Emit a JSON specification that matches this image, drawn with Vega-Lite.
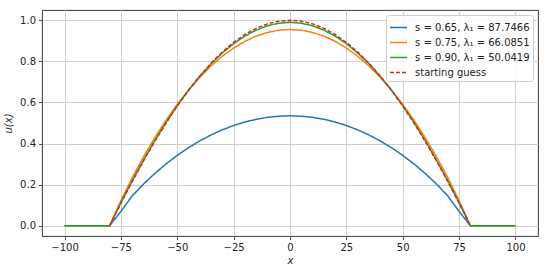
{
  "$schema": "https://vega.github.io/schema/vega-lite/v6.json",
  "width": 496,
  "height": 226,
  "autosize": {"type": "none"},
  "padding": {"left": 42, "top": 10, "right": 18, "bottom": 38},
  "background": "white",
  "config": {
    "font": "DejaVu Sans",
    "view": {"stroke": "#222222", "strokeWidth": 0.9},
    "axis": {
      "labelFont": "DejaVu Sans",
      "titleFont": "DejaVu Sans",
      "labelFontSize": 10,
      "titleFontSize": 10,
      "labelColor": "#222222",
      "titleColor": "#222222",
      "titleFontWeight": "normal",
      "titleFontStyle": "italic",
      "domain": false,
      "tickColor": "#222222",
      "tickSize": 3.5,
      "tickWidth": 0.8,
      "labelPadding": 3,
      "gridColor": "#cfcfcf",
      "gridWidth": 1
    },
    "legend": {
      "orient": "top-right",
      "offset": 5,
      "fillColor": "rgba(255,255,255,0.85)",
      "strokeColor": "#cccccc",
      "cornerRadius": 3,
      "padding": 3,
      "symbolType": "stroke",
      "symbolSize": 289,
      "symbolStrokeWidth": 1.5,
      "labelFontSize": 10,
      "labelFont": "DejaVu Sans",
      "labelColor": "#222222",
      "rowPadding": -3,
      "labelOffset": 7
    }
  },
  "data": {
    "values": [
      {"x": -100, "u": 0, "series": "s = 0.65, λ₁ = 87.7466"},
      {"x": -90, "u": 0, "series": "s = 0.65, λ₁ = 87.7466"},
      {"x": -80, "u": 0, "series": "s = 0.65, λ₁ = 87.7466"},
      {"x": -75, "u": 0.07, "series": "s = 0.65, λ₁ = 87.7466"},
      {"x": -70, "u": 0.145, "series": "s = 0.65, λ₁ = 87.7466"},
      {"x": -65, "u": 0.2025, "series": "s = 0.65, λ₁ = 87.7466"},
      {"x": -60, "u": 0.2542, "series": "s = 0.65, λ₁ = 87.7466"},
      {"x": -55, "u": 0.3008, "series": "s = 0.65, λ₁ = 87.7466"},
      {"x": -50, "u": 0.3424, "series": "s = 0.65, λ₁ = 87.7466"},
      {"x": -45, "u": 0.3799, "series": "s = 0.65, λ₁ = 87.7466"},
      {"x": -40, "u": 0.413, "series": "s = 0.65, λ₁ = 87.7466"},
      {"x": -35, "u": 0.4419, "series": "s = 0.65, λ₁ = 87.7466"},
      {"x": -30, "u": 0.4668, "series": "s = 0.65, λ₁ = 87.7466"},
      {"x": -25, "u": 0.4878, "series": "s = 0.65, λ₁ = 87.7466"},
      {"x": -20, "u": 0.5048, "series": "s = 0.65, λ₁ = 87.7466"},
      {"x": -15, "u": 0.518, "series": "s = 0.65, λ₁ = 87.7466"},
      {"x": -10, "u": 0.5275, "series": "s = 0.65, λ₁ = 87.7466"},
      {"x": -5, "u": 0.5331, "series": "s = 0.65, λ₁ = 87.7466"},
      {"x": 0, "u": 0.535, "series": "s = 0.65, λ₁ = 87.7466"},
      {"x": 5, "u": 0.5331, "series": "s = 0.65, λ₁ = 87.7466"},
      {"x": 10, "u": 0.5275, "series": "s = 0.65, λ₁ = 87.7466"},
      {"x": 15, "u": 0.518, "series": "s = 0.65, λ₁ = 87.7466"},
      {"x": 20, "u": 0.5048, "series": "s = 0.65, λ₁ = 87.7466"},
      {"x": 25, "u": 0.4878, "series": "s = 0.65, λ₁ = 87.7466"},
      {"x": 30, "u": 0.4668, "series": "s = 0.65, λ₁ = 87.7466"},
      {"x": 35, "u": 0.4419, "series": "s = 0.65, λ₁ = 87.7466"},
      {"x": 40, "u": 0.413, "series": "s = 0.65, λ₁ = 87.7466"},
      {"x": 45, "u": 0.3799, "series": "s = 0.65, λ₁ = 87.7466"},
      {"x": 50, "u": 0.3424, "series": "s = 0.65, λ₁ = 87.7466"},
      {"x": 55, "u": 0.3008, "series": "s = 0.65, λ₁ = 87.7466"},
      {"x": 60, "u": 0.2542, "series": "s = 0.65, λ₁ = 87.7466"},
      {"x": 65, "u": 0.2025, "series": "s = 0.65, λ₁ = 87.7466"},
      {"x": 70, "u": 0.145, "series": "s = 0.65, λ₁ = 87.7466"},
      {"x": 75, "u": 0.07, "series": "s = 0.65, λ₁ = 87.7466"},
      {"x": 80, "u": 0, "series": "s = 0.65, λ₁ = 87.7466"},
      {"x": 90, "u": 0, "series": "s = 0.65, λ₁ = 87.7466"},
      {"x": 100, "u": 0, "series": "s = 0.65, λ₁ = 87.7466"},

      {"x": -100, "u": 0, "series": "s = 0.75, λ₁ = 66.0851"},
      {"x": -90, "u": 0, "series": "s = 0.75, λ₁ = 66.0851"},
      {"x": -80, "u": 0, "series": "s = 0.75, λ₁ = 66.0851"},
      {"x": -75, "u": 0.1226, "series": "s = 0.75, λ₁ = 66.0851"},
      {"x": -70, "u": 0.2337, "series": "s = 0.75, λ₁ = 66.0851"},
      {"x": -65, "u": 0.3351, "series": "s = 0.75, λ₁ = 66.0851"},
      {"x": -60, "u": 0.4281, "series": "s = 0.75, λ₁ = 66.0851"},
      {"x": -55, "u": 0.5134, "series": "s = 0.75, λ₁ = 66.0851"},
      {"x": -50, "u": 0.5905, "series": "s = 0.75, λ₁ = 66.0851"},
      {"x": -45, "u": 0.66, "series": "s = 0.75, λ₁ = 66.0851"},
      {"x": -40, "u": 0.7226, "series": "s = 0.75, λ₁ = 66.0851"},
      {"x": -35, "u": 0.7778, "series": "s = 0.75, λ₁ = 66.0851"},
      {"x": -30, "u": 0.8254, "series": "s = 0.75, λ₁ = 66.0851"},
      {"x": -25, "u": 0.8651, "series": "s = 0.75, λ₁ = 66.0851"},
      {"x": -20, "u": 0.8977, "series": "s = 0.75, λ₁ = 66.0851"},
      {"x": -15, "u": 0.9229, "series": "s = 0.75, λ₁ = 66.0851"},
      {"x": -10, "u": 0.9406, "series": "s = 0.75, λ₁ = 66.0851"},
      {"x": -5, "u": 0.9516, "series": "s = 0.75, λ₁ = 66.0851"},
      {"x": 0, "u": 0.955, "series": "s = 0.75, λ₁ = 66.0851"},
      {"x": 5, "u": 0.9516, "series": "s = 0.75, λ₁ = 66.0851"},
      {"x": 10, "u": 0.9406, "series": "s = 0.75, λ₁ = 66.0851"},
      {"x": 15, "u": 0.9229, "series": "s = 0.75, λ₁ = 66.0851"},
      {"x": 20, "u": 0.8977, "series": "s = 0.75, λ₁ = 66.0851"},
      {"x": 25, "u": 0.8651, "series": "s = 0.75, λ₁ = 66.0851"},
      {"x": 30, "u": 0.8254, "series": "s = 0.75, λ₁ = 66.0851"},
      {"x": 35, "u": 0.7778, "series": "s = 0.75, λ₁ = 66.0851"},
      {"x": 40, "u": 0.7226, "series": "s = 0.75, λ₁ = 66.0851"},
      {"x": 45, "u": 0.66, "series": "s = 0.75, λ₁ = 66.0851"},
      {"x": 50, "u": 0.5905, "series": "s = 0.75, λ₁ = 66.0851"},
      {"x": 55, "u": 0.5134, "series": "s = 0.75, λ₁ = 66.0851"},
      {"x": 60, "u": 0.4281, "series": "s = 0.75, λ₁ = 66.0851"},
      {"x": 65, "u": 0.3351, "series": "s = 0.75, λ₁ = 66.0851"},
      {"x": 70, "u": 0.2337, "series": "s = 0.75, λ₁ = 66.0851"},
      {"x": 75, "u": 0.1226, "series": "s = 0.75, λ₁ = 66.0851"},
      {"x": 80, "u": 0, "series": "s = 0.75, λ₁ = 66.0851"},
      {"x": 90, "u": 0, "series": "s = 0.75, λ₁ = 66.0851"},
      {"x": 100, "u": 0, "series": "s = 0.75, λ₁ = 66.0851"},

      {"x": -100, "u": 0, "series": "s = 0.90, λ₁ = 50.0419"},
      {"x": -90, "u": 0, "series": "s = 0.90, λ₁ = 50.0419"},
      {"x": -80, "u": 0, "series": "s = 0.90, λ₁ = 50.0419"},
      {"x": -75, "u": 0.1125, "series": "s = 0.90, λ₁ = 50.0419"},
      {"x": -70, "u": 0.2185, "series": "s = 0.90, λ₁ = 50.0419"},
      {"x": -65, "u": 0.319, "series": "s = 0.90, λ₁ = 50.0419"},
      {"x": -60, "u": 0.414, "series": "s = 0.90, λ₁ = 50.0419"},
      {"x": -55, "u": 0.503, "series": "s = 0.90, λ₁ = 50.0419"},
      {"x": -50, "u": 0.585, "series": "s = 0.90, λ₁ = 50.0419"},
      {"x": -45, "u": 0.66, "series": "s = 0.90, λ₁ = 50.0419"},
      {"x": -40, "u": 0.7281, "series": "s = 0.90, λ₁ = 50.0419"},
      {"x": -35, "u": 0.7885, "series": "s = 0.90, λ₁ = 50.0419"},
      {"x": -30, "u": 0.8412, "series": "s = 0.90, λ₁ = 50.0419"},
      {"x": -25, "u": 0.8861, "series": "s = 0.90, λ₁ = 50.0419"},
      {"x": -20, "u": 0.9232, "series": "s = 0.90, λ₁ = 50.0419"},
      {"x": -15, "u": 0.9521, "series": "s = 0.90, λ₁ = 50.0419"},
      {"x": -10, "u": 0.9731, "series": "s = 0.90, λ₁ = 50.0419"},
      {"x": -5, "u": 0.9857, "series": "s = 0.90, λ₁ = 50.0419"},
      {"x": 0, "u": 0.99, "series": "s = 0.90, λ₁ = 50.0419"},
      {"x": 5, "u": 0.9857, "series": "s = 0.90, λ₁ = 50.0419"},
      {"x": 10, "u": 0.9731, "series": "s = 0.90, λ₁ = 50.0419"},
      {"x": 15, "u": 0.9521, "series": "s = 0.90, λ₁ = 50.0419"},
      {"x": 20, "u": 0.9232, "series": "s = 0.90, λ₁ = 50.0419"},
      {"x": 25, "u": 0.8861, "series": "s = 0.90, λ₁ = 50.0419"},
      {"x": 30, "u": 0.8412, "series": "s = 0.90, λ₁ = 50.0419"},
      {"x": 35, "u": 0.7885, "series": "s = 0.90, λ₁ = 50.0419"},
      {"x": 40, "u": 0.7281, "series": "s = 0.90, λ₁ = 50.0419"},
      {"x": 45, "u": 0.66, "series": "s = 0.90, λ₁ = 50.0419"},
      {"x": 50, "u": 0.585, "series": "s = 0.90, λ₁ = 50.0419"},
      {"x": 55, "u": 0.503, "series": "s = 0.90, λ₁ = 50.0419"},
      {"x": 60, "u": 0.414, "series": "s = 0.90, λ₁ = 50.0419"},
      {"x": 65, "u": 0.319, "series": "s = 0.90, λ₁ = 50.0419"},
      {"x": 70, "u": 0.2185, "series": "s = 0.90, λ₁ = 50.0419"},
      {"x": 75, "u": 0.1125, "series": "s = 0.90, λ₁ = 50.0419"},
      {"x": 80, "u": 0, "series": "s = 0.90, λ₁ = 50.0419"},
      {"x": 90, "u": 0, "series": "s = 0.90, λ₁ = 50.0419"},
      {"x": 100, "u": 0, "series": "s = 0.90, λ₁ = 50.0419"},

      {"x": -80, "u": 0, "series": "starting guess"},
      {"x": -75, "u": 0.1096, "series": "starting guess"},
      {"x": -70, "u": 0.2147, "series": "starting guess"},
      {"x": -65, "u": 0.3151, "series": "starting guess"},
      {"x": -60, "u": 0.4101, "series": "starting guess"},
      {"x": -55, "u": 0.4994, "series": "starting guess"},
      {"x": -50, "u": 0.5825, "series": "starting guess"},
      {"x": -45, "u": 0.659, "series": "starting guess"},
      {"x": -40, "u": 0.7286, "series": "starting guess"},
      {"x": -35, "u": 0.7908, "series": "starting guess"},
      {"x": -30, "u": 0.8454, "series": "starting guess"},
      {"x": -25, "u": 0.8921, "series": "starting guess"},
      {"x": -20, "u": 0.9307, "series": "starting guess"},
      {"x": -15, "u": 0.9609, "series": "starting guess"},
      {"x": -10, "u": 0.9826, "series": "starting guess"},
      {"x": -5, "u": 0.9956, "series": "starting guess"},
      {"x": 0, "u": 1.0, "series": "starting guess"},
      {"x": 5, "u": 0.9956, "series": "starting guess"},
      {"x": 10, "u": 0.9826, "series": "starting guess"},
      {"x": 15, "u": 0.9609, "series": "starting guess"},
      {"x": 20, "u": 0.9307, "series": "starting guess"},
      {"x": 25, "u": 0.8921, "series": "starting guess"},
      {"x": 30, "u": 0.8454, "series": "starting guess"},
      {"x": 35, "u": 0.7908, "series": "starting guess"},
      {"x": 40, "u": 0.7286, "series": "starting guess"},
      {"x": 45, "u": 0.659, "series": "starting guess"},
      {"x": 50, "u": 0.5825, "series": "starting guess"},
      {"x": 55, "u": 0.4994, "series": "starting guess"},
      {"x": 60, "u": 0.4101, "series": "starting guess"},
      {"x": 65, "u": 0.3151, "series": "starting guess"},
      {"x": 70, "u": 0.2147, "series": "starting guess"},
      {"x": 75, "u": 0.1096, "series": "starting guess"},
      {"x": 80, "u": 0, "series": "starting guess"}
    ]
  },
  "mark": {"type": "line", "strokeWidth": 1.5, "clip": true},
  "encoding": {
    "x": {
      "field": "x",
      "type": "quantitative",
      "scale": {"domain": [-110, 110], "nice": false, "zero": false},
      "axis": {"values": [-100, -75, -50, -25, 0, 25, 50, 75, 100], "format": "d", "title": "x", "titlePadding": 3}
    },
    "y": {
      "field": "u",
      "type": "quantitative",
      "scale": {"domain": [-0.05, 1.05], "nice": false, "zero": false},
      "axis": {"values": [0, 0.2, 0.4, 0.6, 0.8, 1.0], "format": ".1f", "title": "u(x)", "titlePadding": 6}
    },
    "color": {
      "field": "series",
      "type": "nominal",
      "scale": {
        "domain": ["s = 0.65, λ₁ = 87.7466", "s = 0.75, λ₁ = 66.0851", "s = 0.90, λ₁ = 50.0419", "starting guess"],
        "range": ["#1f77b4", "#ff7f0e", "#2ca02c", "#d62728"]
      },
      "legend": {"title": null}
    },
    "strokeDash": {
      "field": "series",
      "type": "nominal",
      "scale": {
        "domain": ["s = 0.65, λ₁ = 87.7466", "s = 0.75, λ₁ = 66.0851", "s = 0.90, λ₁ = 50.0419", "starting guess"],
        "range": [[1, 0], [1, 0], [1, 0], [4, 2]]
      },
      "legend": {"title": null}
    }
  }
}
